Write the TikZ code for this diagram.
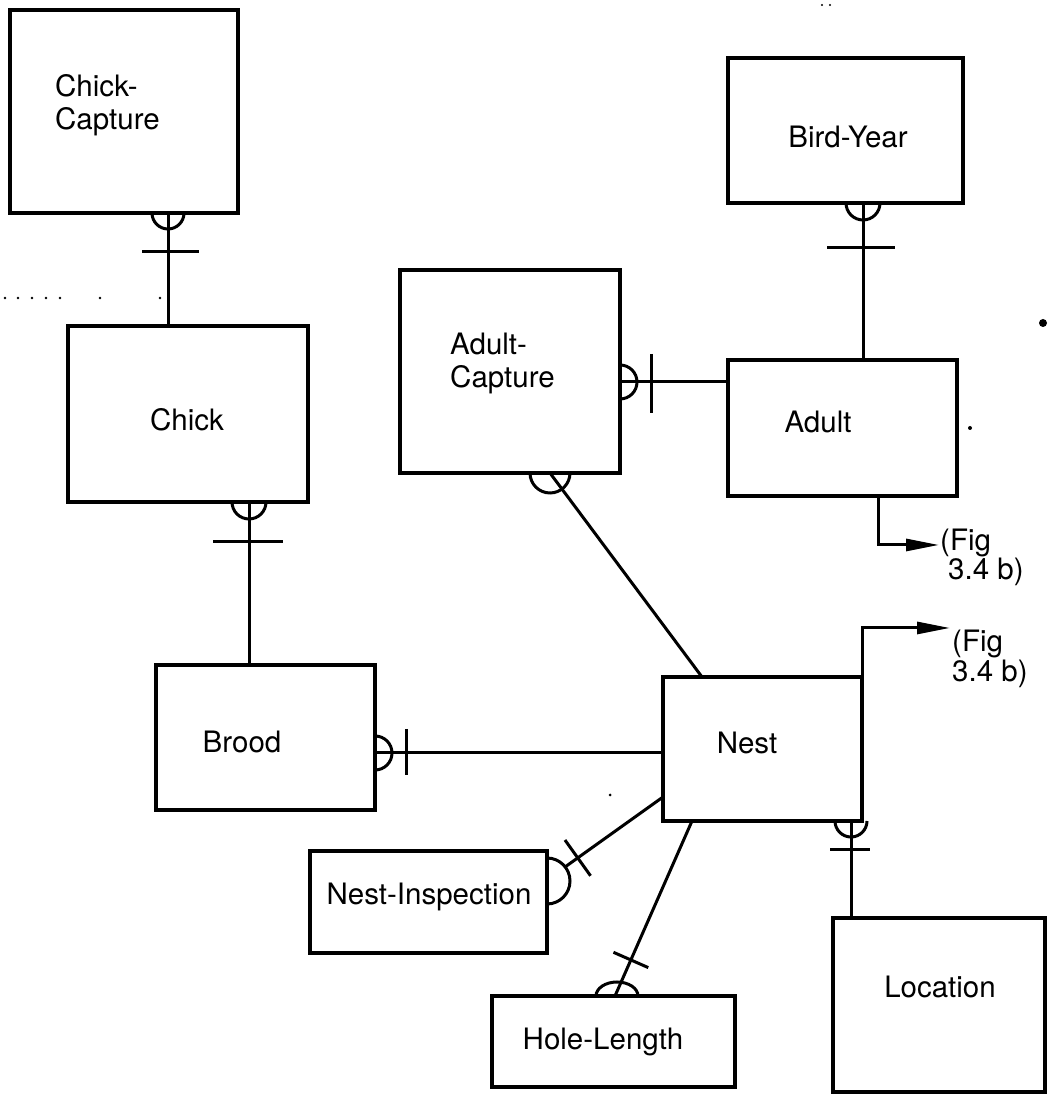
\documentclass[tikz,border=0pt]{standalone}
\usepackage{fontspec}
\setmainfont{TeX Gyre Heros}
\usetikzlibrary{calc,arrows.meta}
\begin{document}
\begin{tikzpicture}[x=1pt,y=1pt,
  box/.style={draw, line width=3.2pt, inner sep=0pt, outer sep=0pt, anchor=north west},
  conn/.style={line width=3pt},
  lbl/.style={inner sep=0pt, font=\fontsize{29.5}{32}\selectfont, anchor=base},
  lblw/.style={lbl, anchor=base west},
  tip/.style={-{Triangle[length=33pt,width=12pt]}}]
\useasboundingbox (0,0) rectangle (1054,1103);
% boxes
\node[box, minimum width=228pt, minimum height=203pt] (cc) at (10,1093) {};
\node[box, minimum width=235pt, minimum height=145pt] (by) at (728,1045) {};
\node[box, minimum width=240pt, minimum height=176pt] (chk) at (68,777) {};
\node[box, minimum width=220pt, minimum height=203pt] (ac) at (400,833) {};
\node[box, minimum width=229pt, minimum height=136pt] (ad) at (728,743) {};
\node[box, minimum width=219pt, minimum height=145pt] (br) at (156,438) {};
\node[box, minimum width=199pt, minimum height=144pt] (ne) at (663,426) {};
\node[box, minimum width=237pt, minimum height=102pt] (ni) at (310,252) {};
\node[box, minimum width=243pt, minimum height=91pt] (hl) at (492,107) {};
\node[box, minimum width=212pt, minimum height=174pt] (lo) at (833,185) {};
% texts
\node[lblw] (cct1) at (55,1006) {Chick-};
\node[lblw] (cct2) at (55,973) {Capture};
\node[lbl] (byt) at (848,955) {Bird-Year};
\node[lbl] (chkt) at (187,672) {Chick};
\node[lblw] (act1) at (450,748) {Adult-};
\node[lblw] (act2) at (450,715) {Capture};
\node[lbl] (adt) at (818,670) {Adult};
\node[lbl] (brt) at (242,350) {Brood};
\node[lbl] (net) at (747,349) {Nest};
\node[lbl] (nit) at (429,198) {Nest-Inspection};
\node[lbl] (hlt) at (603,53) {Hole-Length};
\node[lbl] (lot) at (940,105) {Location};
\node[lblw] (fa1) at (940,552) {(Fig};
\node[lblw] (fa2) at (948,523) {3.4 b)};
\node[lblw] (fb1) at (952,451) {(Fig};
\node[lblw] (fb2) at (952,421) {3.4 b)};
% Chick-Capture -- Chick
\coordinate (cc-s) at ($(cc.south west)+(158,0)$);
\draw[conn] (cc-s) -- ($(chk.north west)+(100,0)$);
\draw[conn] ($(cc-s)+(-16,0)$) arc[start angle=180, end angle=360, radius=16];
\draw[conn] ($(cc-s)+(-26,-39)$) -- ($(cc-s)+(31,-39)$);
% Chick -- Brood
\coordinate (chk-s) at ($(chk.south west)+(181,0)$);
\draw[conn] (chk-s) -- ($(br.north west)+(93,0)$);
\draw[conn] ($(chk-s)+(-17,0)$) arc[start angle=180, end angle=360, radius=17];
\draw[conn] ($(chk-s)+(-36,-40)$) -- ($(chk-s)+(34,-40)$);
% Bird-Year -- Adult
\coordinate (by-s) at ($(by.south west)+(135,0)$);
\draw[conn] (by-s) -- ($(ad.north west)+(135,0)$);
\draw[conn] ($(by-s)+(-17,0)$) arc[start angle=180, end angle=360, radius=17];
\draw[conn] ($(by-s)+(-36,-45)$) -- ($(by-s)+(32,-45)$);
% Adult-Capture -- Adult
\coordinate (ac-e) at ($(ac.north east)+(0,-112)$);
\draw[conn] (ac-e) -- ($(ad.north west)+(0,-22)$);
\draw[conn] ($(ac-e)+(0,17)$) arc[start angle=90, end angle=-90, radius=17];
\draw[conn] ($(ac-e)+(31,28)$) -- ($(ac-e)+(31,-31)$);
% Adult-Capture -- Nest
\coordinate (ac-b) at ($(ac.south west)+(150,0)$);
\draw[conn] (ac-b) -- ($(ne.north west)+(39,0)$);
\draw[conn] ($(ac-b)+(-20,0)$) arc[start angle=180, end angle=360, radius=20];
% Brood -- Nest
\coordinate (br-e) at ($(br.north east)+(0,-88)$);
\draw[conn] (br-e) -- ($(ne.north west)+(0,-76)$);
\draw[conn] ($(br-e)+(0,17)$) arc[start angle=90, end angle=-90, radius=17];
\draw[conn] ($(br-e)+(31,24)$) -- ($(br-e)+(31,-22)$);
% Nest -- Nest-Inspection
\coordinate (ne-w) at ($(ne.north west)+(0,-120)$);
\coordinate (ni-p) at ($(ni.north east)+(18,-16)$);
\draw[conn] (ne-w) -- (ni-p);
\draw[conn] ($(ni.north east)+(0,-7)$) arc[start angle=90, end angle=-90, radius=23];
\draw[conn] ($(ne-w)!0.87!(ni-p)!22pt!90:(ni-p)$) -- ($(ne-w)!0.87!(ni-p)!22pt!-90:(ni-p)$);
% Nest -- Hole-Length
\coordinate (ne-b) at ($(ne.south west)+(29,0)$);
\coordinate (hl-t) at ($(hl.north west)+(123,0)$);
\draw[conn] (ne-b) -- (hl-t);
\draw[conn] ($(hl.north west)+(104,0)$) arc[start angle=180, end angle=0, x radius=21, y radius=14];
\draw[conn] ($(ne-b)!0.794!(hl-t)!19pt!90:(hl-t)$) -- ($(ne-b)!0.794!(hl-t)!19pt!-90:(hl-t)$);
% Nest -- Location
\coordinate (ne-b2) at ($(ne.south west)+(188,0)$);
\draw[conn] (ne-b2) -- ($(lo.north west)+(18,0)$);
\draw[conn] ($(ne-b2)+(-16,0)$) arc[start angle=180, end angle=360, radius=16];
\draw[conn] ($(ne-b2)+(-21,-29)$) -- ($(ne-b2)+(19,-29)$);
% references to Fig 3.4 b
\coordinate (ad-b) at ($(ad.south west)+(150,0)$);
\draw[conn, tip] (ad-b) |- ($(fa1.base west)+(-1,6)$);
\draw[conn, tip] (ne.north east) |- ($(fb1.base west)+(-2,24)$);
% specks
\fill (1043,780) circle[radius=4];
\fill (970,675) circle[radius=2];
\foreach \dx in {5,18,32,46,60,100,160} \fill (\dx,805) circle[radius=1.3];
\fill (610,308) circle[radius=1.5];
\fill (822,1098) circle[radius=1.2];
\fill (830,1098) circle[radius=1.2];
\end{tikzpicture}
\end{document}
